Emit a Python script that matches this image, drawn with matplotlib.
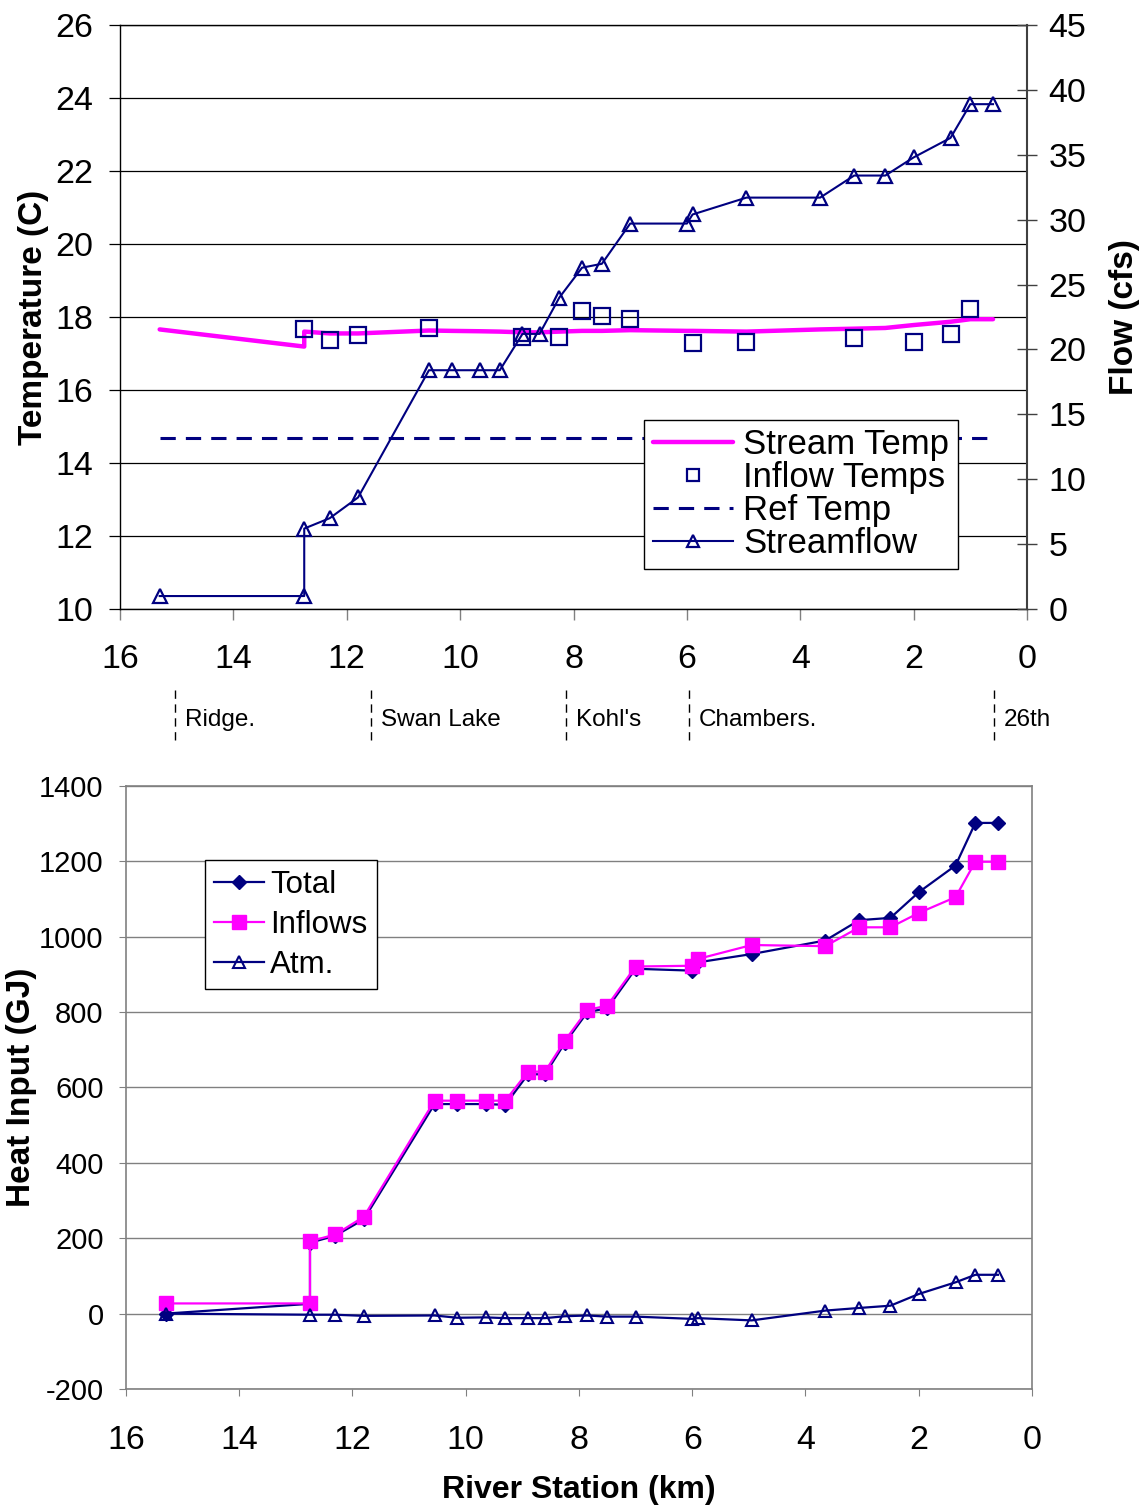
import matplotlib
matplotlib.use("Agg")
import matplotlib.pyplot as plt
import matplotlib.transforms as mtransforms

plt.rcParams["font.family"] = ["Liberation Sans", "DejaVu Sans"]
plt.rcParams["axes.unicode_minus"] = False

# river stations (km), shared by the series
stations = [15.3, 12.75, 12.75, 12.3, 11.8, 10.55, 10.15, 9.65, 9.3, 8.9, 8.6, 8.25, 7.85,
            7.5, 7.0, 6.0, 5.9, 4.95, 3.65, 3.05, 2.5, 2.0, 1.35, 1.0, 0.6]
stream_temp = [17.66, 17.19, 17.6, 17.55, 17.55, 17.63, 17.62, 17.61, 17.6, 17.58, 17.58, 17.6, 17.62,
               17.62, 17.64, 17.62, 17.62, 17.6, 17.66, 17.68, 17.7, 17.78, 17.87, 17.94, 17.94]
streamflow = [1.0, 1.0, 6.2, 7.0, 8.6, 18.4, 18.4, 18.4, 18.4, 21.2, 21.2, 24.0, 26.3,
              26.6, 29.7, 29.7, 30.4, 31.7, 31.7, 33.4, 33.4, 34.8, 36.3, 38.9, 38.9]

inflow_stations = [12.75, 12.3, 11.8, 10.55, 8.9, 8.25, 7.85, 7.5, 7.0, 5.9, 4.95, 3.05, 2.0, 1.35, 1.0]
inflow_temp = [17.66, 17.37, 17.5, 17.71, 17.46, 17.46, 18.17, 18.04, 17.95, 17.3, 17.32, 17.42,
               17.32, 17.53, 18.21]

ref_stations = [15.3, 0.6]
ref_temp = [14.68, 14.68]

heat_total = [0, 26, 188, 207, 250, 556, 556, 556, 554, 635, 635, 718, 800,
              810, 915, 910, 932, 954, 990, 1044, 1050, 1118, 1189, 1302, 1302]
heat_inflows = [27, 27, 192, 210, 257, 565, 565, 565, 565, 642, 642, 724, 806,
                817, 921, 923, 941, 978, 975, 1025, 1025, 1063, 1105, 1199, 1199]
atm_stations = [15.3, 12.75, 12.3, 11.8, 10.55, 10.15, 9.65, 9.3, 8.9, 8.6, 8.25, 7.85,
                7.5, 7.0, 6.0, 5.9, 4.95, 3.65, 3.05, 2.5, 2.0, 1.35, 1.0, 0.6]
heat_atm = [0, -3, -3, -6, -5, -11, -10, -12, -12, -12, -7, -5,
            -8, -8, -14, -12, -18, 8, 15, 21, 52, 83, 103, 103]

landmark_km = [15.03, 11.57, 8.13, 5.96, 0.58]
landmark_names = ["Ridge.", "Swan Lake", "Kohl's", "Chambers.", "26th"]

navy = "#000080"
magenta = "#FF00FF"

fig = plt.figure(figsize=(11.46, 15.06), dpi=100)

# ---- top chart: temperature + flow ----
ax = fig.add_axes([0.1047, 0.5956, 0.7915, 0.3878])
ax2 = ax.twinx()

l_stream, = ax.plot(stations, stream_temp, color=magenta, lw=3.2, solid_capstyle="round",
                    label="Stream Temp", zorder=3)
l_inflow, = ax.plot(inflow_stations, inflow_temp, ls="none", marker="s", ms=11, mfc="none",
                    mec=navy, mew=1.6, label="Inflow Temps", zorder=4)
l_ref, = ax.plot(ref_stations, ref_temp, color=navy, lw=2.2, ls=(0, (5, 3.3)), label="Ref Temp")
l_flow, = ax2.plot(stations, streamflow, color=navy, lw=1.5, marker="^", ms=10, mfc="none",
                   mec=navy, mew=1.6, label="Streamflow", zorder=5)

ax.set_xlim(16, 0)
ax.set_ylim(10, 26)
ax.set_yticks(range(10, 27, 2))
ax.set_xticks(range(16, -1, -2))
ax2.set_ylim(0, 45)
ax2.set_yticks(range(0, 46, 5))

ax.grid(axis="y", color="black", lw=0.9)
ax.set_axisbelow(True)
ax.tick_params(axis="y", direction="out", length=8, width=0.9, labelsize=24.5, pad=11)
ax.tick_params(axis="x", direction="out", length=8, width=1, color="#808080", labelsize=24.5, pad=17)
ax2.tick_params(axis="y", direction="inout", length=15, width=1, color="#404040", labelsize=24.5, pad=8)

for s in ["left", "bottom", "top"]:
    ax.spines[s].set_color("black")
    ax.spines[s].set_linewidth(1.0)
ax.spines["right"].set_visible(False)
ax2.spines["right"].set_color("#404040")
ax2.spines["right"].set_linewidth(1.5)
for s in ["left", "bottom", "top"]:
    ax2.spines[s].set_visible(False)

ax.set_ylabel("Temperature (C)", fontsize=24, fontweight="bold", va="center")
ax.yaxis.set_label_coords(-0.095, 0.5)
ax2.set_ylabel("Flow (cfs)", fontsize=24, fontweight="bold", va="center")
ax2.yaxis.set_label_coords(1.107, 0.5)

leg = ax2.legend([l_stream, l_inflow, l_ref, l_flow],
                 ["Stream Temp", "Inflow Temps", "Ref Temp", "Streamflow"],
                 loc="lower left", bbox_to_anchor=(0.578, 0.0685), fontsize=25, numpoints=1,
                 fancybox=False, framealpha=1, edgecolor="black", borderpad=0.25,
                 labelspacing=0.0, handlelength=2.3, handletextpad=0.3, borderaxespad=0)
leg.get_frame().set_linewidth(1.0)
for h in leg.legend_handles:
    if h.get_marker() == "s":
        h.set_markersize(8)
    elif h.get_marker() == "^":
        h.set_markersize(8)

# landmarks under the top axis
trans = mtransforms.blended_transform_factory(ax.transData, ax.transAxes)
for km, name in zip(landmark_km, landmark_names):
    ax.plot([km, km], [-0.139, -0.233], transform=trans, clip_on=False, color="black",
            lw=1, ls=(0, (6, 4)))
    ax.annotate(name, xy=(km, -0.19), xycoords=trans, xytext=(7, 0), textcoords="offset points",
                ha="left", va="center", fontsize=17.5)

# ---- bottom chart: heat input ----
bx = fig.add_axes([0.1099, 0.0777, 0.7906, 0.4004])

bx.plot(stations, heat_total, color=navy, lw=1.6, marker="D", ms=7.5, mec=navy, mfc=navy,
        label="Total", zorder=3)
bx.plot(stations, heat_inflows, color=magenta, lw=1.6, marker="s", ms=10, mec=magenta, mfc=magenta,
        label="Inflows", zorder=4)
bx.plot(atm_stations, heat_atm, color=navy, lw=1.6, marker="^", ms=8.5, mfc="none", mec=navy,
        mew=1.5, label="Atm.", zorder=5)

bx.set_xlim(16, 0)
bx.set_ylim(-200, 1400)
bx.set_yticks(range(-200, 1401, 200))
bx.set_xticks(range(16, -1, -2))
bx.grid(axis="y", color="#808080", lw=1.0)
bx.set_axisbelow(True)
for s in bx.spines.values():
    s.set_color("#808080")
    s.set_linewidth(1.2)
bx.tick_params(axis="y", direction="out", length=5, color="#808080", labelsize=21, pad=11)
bx.tick_params(axis="x", direction="out", length=5, color="#808080", labelsize=24.5, pad=21)

bx.set_ylabel("Heat Input (GJ)", fontsize=24, fontweight="bold", va="center")
bx.yaxis.set_label_coords(-0.115, 0.5)
bx.set_xlabel("River Station (km)", fontsize=23, fontweight="bold", va="center")
bx.xaxis.set_label_coords(0.5, -0.167)

leg2 = bx.legend(loc="upper left", bbox_to_anchor=(0.087, 0.877), fontsize=22.5, numpoints=1,
                 fancybox=False, framealpha=1, edgecolor="black", borderpad=0.3,
                 labelspacing=0.32, handlelength=1.6, handletextpad=0.2, borderaxespad=0)
leg2.get_frame().set_linewidth(1.0)

fig.savefig("out.png", dpi=100)
